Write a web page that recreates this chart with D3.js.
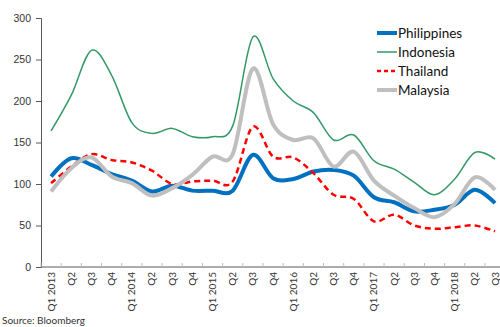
<!DOCTYPE html>
<html>
<head>
<meta charset="utf-8">
<script src="https://cdn.jsdelivr.net/npm/d3@7"></script>
<style>
  html, body { margin: 0; padding: 0; background: #fff; }
  svg { display: block; font-family: Lato, "Open Sans", sans-serif; }
</style>
</head>
<body>
<svg id="chart" width="500" height="327"></svg>
<script>
// Quarterly categories, Q1 2013 – Q3 2018
const quarters = [
  "Q1 2013", "Q2", "Q3", "Q4",
  "Q1 2014", "Q2", "Q3", "Q4",
  "Q1 2015", "Q2", "Q3", "Q4",
  "Q1 2016", "Q2", "Q3", "Q4",
  "Q1 2017", "Q2", "Q3", "Q4",
  "Q1 2018", "Q2", "Q3"
];

const philippines = [109, 131, 123, 112, 104, 91, 98, 92, 92, 92, 135, 107, 106, 115, 117, 110, 84, 78, 67, 69, 75, 93, 77];
const indonesia   = [164, 207, 261, 231, 174, 161, 167, 157, 157, 170, 277, 227, 200, 186, 153, 159, 128, 118, 102, 87, 106, 138, 130];
const thailand    = [101, 121, 136, 129, 126, 116, 100, 103, 104, 103, 169, 133, 132, 113, 87, 82, 55, 63, 50, 46, 48, 50, 43];
const malaysia    = [91, 119, 132, 109, 101, 86, 95, 111, 133, 136, 239, 172, 153, 155, 121, 139, 104, 86, 71, 60, 76, 108, 93];

const yTicks = [0, 50, 100, 150, 200, 250, 300];

const series = [
  { name: "Philippines", values: philippines, color: "#0070C0", width: 4,   dash: null },
  { name: "Indonesia",   values: indonesia,   color: "#339966", width: 1.5, dash: null },
  { name: "Thailand",    values: thailand,    color: "#FF0000", width: 2.5, dash: "6,4" },
  { name: "Malaysia",    values: malaysia,    color: "#BFBFBF", width: 4,   dash: null }
];

const svg = d3.select("#chart");
const plotLeft = 41, plotTop = 18, plotBottom = 267;
const bandW = 20.18;
const plotRight = plotLeft + bandW * quarters.length;

const x = d3.scaleBand()
  .domain(d3.range(quarters.length))
  .range([plotLeft, plotRight])
  .paddingInner(0).paddingOuter(0);

const y = d3.scaleLinear().domain([0, 300]).range([plotBottom, plotTop]);

// Y axis
const yAxis = svg.append("g")
  .attr("transform", `translate(${plotLeft},0)`)
  .call(d3.axisLeft(y).tickValues(yTicks).tickSize(5).tickPadding(5));
yAxis.select(".domain").attr("stroke", "#595959");
yAxis.selectAll(".tick line").attr("stroke", "#595959");
yAxis.selectAll(".tick text")
  .attr("fill", "#333").style("font-size", "10.5px");

// X axis (category boundaries as tick marks)
const xg = svg.append("g");
xg.append("line")
  .attr("x1", plotLeft).attr("x2", plotRight)
  .attr("y1", plotBottom).attr("y2", plotBottom)
  .attr("stroke", "#595959");
xg.selectAll("line.tk")
  .data(d3.range(quarters.length + 1))
  .join("line")
  .attr("class", "tk")
  .attr("x1", i => plotLeft + i * bandW).attr("x2", i => plotLeft + i * bandW)
  .attr("y1", plotBottom).attr("y2", plotBottom - 4)
  .attr("stroke", "#bfbfbf");
xg.selectAll("text")
  .data(quarters)
  .join("text")
  .attr("transform", (d, i) => `translate(${x(i) + x.bandwidth() / 2 + 3.5},${plotBottom + 5}) rotate(-90)`)
  .attr("text-anchor", "end")
  .attr("fill", "#333")
  .style("font-size", "10px")
  .text(d => d);

// Smoothed series lines
const line = d3.line()
  .x((d, i) => x(i) + x.bandwidth() / 2)
  .y(d => y(d))
  .curve(d3.curveCatmullRom.alpha(0));

svg.append("g")
  .selectAll("path")
  .data(series)
  .join("path")
  .attr("d", s => line(s.values))
  .attr("fill", "none")
  .attr("stroke", s => s.color)
  .attr("stroke-width", s => s.width)
  .attr("stroke-dasharray", s => s.dash)
  .attr("stroke-linejoin", "round");

// Legend
const lg = svg.append("g").attr("transform", "translate(377,33)");
const items = lg.selectAll("g").data(series).join("g")
  .attr("transform", (d, i) => `translate(0,${i * 19})`);
items.append("line")
  .attr("x1", 0).attr("x2", 20).attr("y1", 0).attr("y2", 0)
  .attr("stroke", d => d.color)
  .attr("stroke-width", d => d.width)
  .attr("stroke-dasharray", d => d.dash ? "4,3" : null);
items.append("text")
  .attr("x", 21).attr("y", 4.5)
  .attr("fill", "#111")
  .style("font-size", "13.5px")
  .text(d => d.name);

// Source note
svg.append("text")
  .attr("x", 2).attr("y", 324)
  .attr("fill", "#333")
  .style("font-size", "10px")
  .text("Source: Bloomberg");
</script>
</body>
</html>
